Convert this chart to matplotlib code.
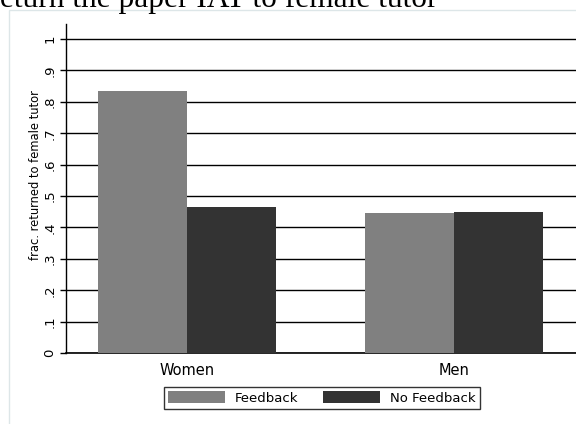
import matplotlib
matplotlib.use("Agg")
import matplotlib.pyplot as plt
from matplotlib.patches import Rectangle

# Data
groups = ["Women", "Men"]
feedback = [0.834, 0.446]
no_feedback = [0.465, 0.448]
series_labels = ["Feedback", "No Feedback"]
yticks = [0, 0.1, 0.2, 0.3, 0.4, 0.5, 0.6, 0.7, 0.8, 0.9, 1.0]
ytick_labels = ["0", ".1", ".2", ".3", ".4", ".5", ".6", ".7", ".8", ".9", "1"]

plt.rcParams["font.family"] = ["DejaVu Sans"]

fig = plt.figure(figsize=(5.76, 4.24), dpi=100)
W, H = 576, 424

# faint outer panel frame (Stata graph region)
fig.patches.append(Rectangle((9 / W, -0.1), 1.2, 1 - 10 / H + 0.1,
                             transform=fig.transFigure, fill=False,
                             edgecolor="#dde6e8", lw=1.0))

# clipped title at the very top
fig.text(-21 / W, 1 - 7 / H, "Return the paper IAT to female tutor",
         family="Liberation Serif", fontsize=22.6, va="baseline", ha="left")

ax = fig.add_axes([66 / W, 1 - 353 / H, (576 - 66) / W, (353 - 24) / H])

x = list(range(len(groups)))
w = 1 / 3
ax.bar([i - w / 2 for i in x], feedback, width=w, color="#808080",
       label=series_labels[0], zorder=3)
ax.bar([i + w / 2 for i in x], no_feedback, width=w, color="#333333",
       label=series_labels[1], zorder=3)

for t in yticks:
    ax.axhline(t, color="black", lw=1.0, zorder=1)

ax.set_xlim(-0.453, 1.457)
ax.set_ylim(0, 1.048)
ax.set_yticks(yticks)
ax.set_yticklabels(ytick_labels, rotation=90, va="center", fontsize=9.5)
ax.tick_params(axis="y", length=4.5, width=1, pad=2.5, color="black")
ax.set_xticks(x)
ax.set_xticklabels(groups, fontsize=10.5)
ax.tick_params(axis="x", length=0, pad=7)
ax.set_ylabel("frac. returned to female tutor", fontsize=8.3, va="center")
ax.yaxis.set_label_coords(-0.059, 0.541)

for s in ["top", "right"]:
    ax.spines[s].set_visible(False)
ax.spines["left"].set_color("black")
ax.spines["bottom"].set_color("black")
ax.spines["left"].set_linewidth(1)
ax.spines["bottom"].set_linewidth(1.2)

leg = fig.legend(loc="center", bbox_to_anchor=(322 / W, 1 - 398 / H), ncol=2,
                 fontsize=9.5, frameon=True, fancybox=False, edgecolor="black",
                 handlelength=4.3, handleheight=1.0, handletextpad=0.75,
                 columnspacing=1.9, borderpad=0.35, borderaxespad=0)
leg.get_frame().set_linewidth(1.0)
for txt in leg.get_texts():
    txt.set_color("black")

fig.savefig("out.png", dpi=100)
